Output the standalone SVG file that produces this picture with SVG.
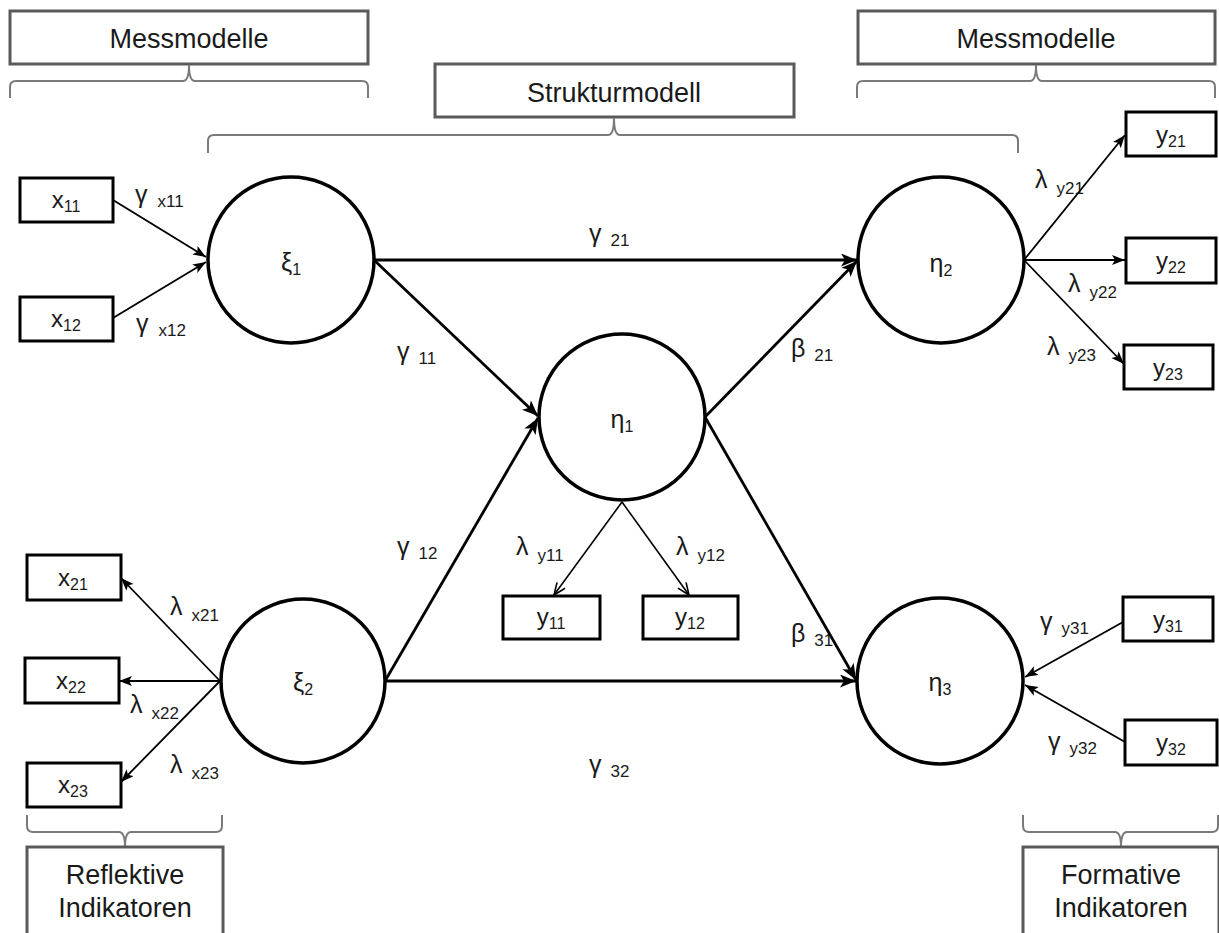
<svg xmlns="http://www.w3.org/2000/svg" width="1219" height="933" viewBox="0 0 1219 933">
  <style>
    .hdr { fill: #ffffff; stroke: #5a5a5a; stroke-width: 3; }
    .hdrtxt { font-family: "Liberation Sans", Arial, sans-serif; font-size: 27px; fill: #1a1a1a; text-anchor: middle; }
    .brace { fill: none; stroke: #7a7a7a; stroke-width: 2; }
    .lat { fill: #ffffff; stroke: #000000; stroke-width: 3.5; }
    .ind { fill: #ffffff; stroke: #000000; stroke-width: 3; }
    .lbl { font-family: "Liberation Sans", Arial, sans-serif; font-size: 24px; fill: #1a1a1a; text-anchor: middle; }
    .glbl { font-family: "Liberation Sans", Arial, sans-serif; font-size: 25px; fill: #1a1a1a; text-anchor: middle; }
    .elbl { font-family: "Liberation Sans", Arial, sans-serif; font-size: 25px; fill: #1a1a1a; }
    .sub { font-size: 16px; }
    .esub { font-size: 17px; }
    .struct { stroke: #000000; stroke-width: 2.8; fill: none; marker-end: url(#headBig); }
    .meas { stroke: #000000; stroke-width: 1.8; fill: none; marker-end: url(#headSmall); }
    .measOpen { stroke: #000000; stroke-width: 1.6; fill: none; marker-end: url(#headOpen); }
  </style>
  <defs>
    <marker id="headBig" markerUnits="userSpaceOnUse" markerWidth="18" markerHeight="14" refX="16" refY="6.5" orient="auto">
      <path d="M0,0 L16,6.5 L0,13 L4,6.5 z" fill="#000000"/>
    </marker>
    <marker id="headSmall" markerUnits="userSpaceOnUse" markerWidth="14" markerHeight="12" refX="13" refY="5" orient="auto">
      <path d="M0,0 L13,5 L0,10 L3,5 z" fill="#000000"/>
    </marker>
    <marker id="headOpen" markerUnits="userSpaceOnUse" markerWidth="16" markerHeight="14" refX="13" refY="6" orient="auto">
      <path d="M1,1 L13,6 L1,11" fill="none" stroke="#000000" stroke-width="1.6"/>
    </marker>
  </defs>

  <!-- header boxes and braces -->
  <g id="hdr-mess-left">
    <rect class="hdr" x="10" y="11" width="358" height="53"/>
    <text class="hdrtxt" x="189" y="48">Messmodelle</text>
    <path class="brace" d="M10,98 V87 Q10,81 16,81 H183 Q189,81 189,65 Q189,81 195,81 H362 Q368,81 368,87 V98"/>
  </g>
  <g id="hdr-struktur">
    <rect class="hdr" x="435" y="64" width="359" height="53"/>
    <text class="hdrtxt" x="614" y="102">Strukturmodell</text>
    <path class="brace" d="M208,153 V141 Q208,135 214,135 H608 Q614,135 614,118 Q614,135 620,135 H1012 Q1018,135 1018,141 V153"/>
  </g>
  <g id="hdr-mess-right">
    <rect class="hdr" x="858" y="11" width="357" height="53"/>
    <text class="hdrtxt" x="1036" y="48">Messmodelle</text>
    <path class="brace" d="M857,98 V87 Q857,81 863,81 H1030 Q1036,81 1036,65 Q1036,81 1042,81 H1209 Q1215,81 1215,87 V98"/>
  </g>
  <g id="hdr-reflektiv">
    <path class="brace" d="M27,815 V826 Q27,832 33,832 H119 Q125,832 125,847 Q125,832 131,832 H216 Q222,832 222,826 V815"/>
    <rect class="hdr" x="27" y="847" width="196" height="100"/>
    <text class="hdrtxt" x="125" y="884">Reflektive</text>
    <text class="hdrtxt" x="125" y="917">Indikatoren</text>
  </g>
  <g id="hdr-formativ">
    <path class="brace" d="M1023,815 V826 Q1023,832 1029,832 H1115 Q1121,832 1121,847 Q1121,832 1127,832 H1212 Q1218,832 1218,826 V815"/>
    <rect class="hdr" x="1023" y="847" width="196" height="100"/>
    <text class="hdrtxt" x="1121" y="884">Formative</text>
    <text class="hdrtxt" x="1121" y="917">Indikatoren</text>
  </g>

  <!-- connectors -->
  <g id="connectors">
    <line class="meas" x1="113" y1="200" x2="206" y2="257"/>
    <line class="meas" x1="113" y1="318" x2="206" y2="262"/>
    <line class="struct" x1="374" y1="260" x2="857" y2="260"/>
    <line class="struct" x1="374" y1="260" x2="538" y2="416"/>
    <line class="struct" x1="385" y1="681" x2="538" y2="418"/>
    <line class="struct" x1="385" y1="681" x2="856" y2="681"/>
    <line class="struct" x1="705" y1="417" x2="857" y2="261"/>
    <line class="struct" x1="705" y1="417" x2="856" y2="680"/>
    <line class="meas" x1="1024" y1="260" x2="1125" y2="135"/>
    <line class="meas" x1="1024" y1="260" x2="1125" y2="260"/>
    <line class="meas" x1="1024" y1="260" x2="1124" y2="364"/>
    <line class="measOpen" x1="622" y1="502" x2="554" y2="595"/>
    <line class="measOpen" x1="622" y1="502" x2="689" y2="595"/>
    <line class="meas" x1="220" y1="681" x2="121" y2="578"/>
    <line class="meas" x1="220" y1="681" x2="119" y2="681"/>
    <line class="meas" x1="220" y1="681" x2="121" y2="782"/>
    <line class="meas" x1="1123" y1="622" x2="1025" y2="677"/>
    <line class="meas" x1="1125" y1="742" x2="1025" y2="685"/>
  </g>

  <!-- connector labels -->
  <g id="path-labels">
    <text class="elbl" x="135" y="203">γ <tspan class="esub" dx="3" dy="4">x11</tspan></text>
    <text class="elbl" x="136" y="332">γ <tspan class="esub" dx="3" dy="4">x12</tspan></text>
    <text class="elbl" x="589" y="242">γ <tspan class="esub" dx="2" dy="4">21</tspan></text>
    <text class="elbl" x="397" y="360">γ <tspan class="esub" dx="2" dy="4">11</tspan></text>
    <text class="elbl" x="397" y="555">γ <tspan class="esub" dx="2" dy="4">12</tspan></text>
    <text class="elbl" x="589" y="773">γ <tspan class="esub" dx="2" dy="4">32</tspan></text>
    <text class="elbl" x="791" y="357">β <tspan class="esub" dx="2" dy="4">21</tspan></text>
    <text class="elbl" x="791" y="642">β <tspan class="esub" dx="2" dy="4">31</tspan></text>
    <text class="elbl" x="1035" y="188">λ <tspan class="esub" dx="2" dy="6">y21</tspan></text>
    <text class="elbl" x="1068" y="292">λ <tspan class="esub" dx="2" dy="6">y22</tspan></text>
    <text class="elbl" x="1047" y="355">λ <tspan class="esub" dx="2" dy="6">y23</tspan></text>
    <text class="elbl" x="516" y="555">λ <tspan class="esub" dx="2" dy="6">y11</tspan></text>
    <text class="elbl" x="676" y="555">λ <tspan class="esub" dx="2" dy="6">y12</tspan></text>
    <text class="elbl" x="170" y="615">λ <tspan class="esub" dx="2" dy="6">x21</tspan></text>
    <text class="elbl" x="130" y="713">λ <tspan class="esub" dx="2" dy="6">x22</tspan></text>
    <text class="elbl" x="170" y="773">λ <tspan class="esub" dx="2" dy="6">x23</tspan></text>
    <text class="elbl" x="1040" y="630">γ <tspan class="esub" dx="2" dy="4">y31</tspan></text>
    <text class="elbl" x="1048" y="750">γ <tspan class="esub" dx="2" dy="4">y32</tspan></text>
  </g>

  <!-- latent variables -->
  <g id="xi1">
    <circle class="lat" cx="291" cy="260" r="83"/>
    <text class="glbl" x="291" y="271">ξ<tspan class="sub" dy="4">1</tspan></text>
  </g>
  <g id="eta1">
    <circle class="lat" cx="622" cy="417" r="83"/>
    <text class="glbl" x="622" y="428">η<tspan class="sub" dy="4">1</tspan></text>
  </g>
  <g id="eta2">
    <circle class="lat" cx="941" cy="260" r="83"/>
    <text class="glbl" x="941" y="272">η<tspan class="sub" dy="4">2</tspan></text>
  </g>
  <g id="xi2">
    <circle class="lat" cx="303" cy="681" r="82"/>
    <text class="glbl" x="303" y="691">ξ<tspan class="sub" dy="4">2</tspan></text>
  </g>
  <g id="eta3">
    <circle class="lat" cx="940" cy="681" r="83"/>
    <text class="glbl" x="940" y="691">η<tspan class="sub" dy="4">3</tspan></text>
  </g>

  <!-- indicators -->
  <g id="x11"><rect class="ind" x="20" y="178" width="93" height="44"/><text class="lbl" x="66" y="208">x<tspan class="sub" dy="4">11</tspan></text></g>
  <g id="x12"><rect class="ind" x="20" y="297" width="93" height="44"/><text class="lbl" x="66" y="327">x<tspan class="sub" dy="4">12</tspan></text></g>
  <g id="y21"><rect class="ind" x="1126" y="112" width="90" height="44"/><text class="lbl" x="1171" y="143">y<tspan class="sub" dy="4">21</tspan></text></g>
  <g id="y22"><rect class="ind" x="1126" y="238" width="90" height="45"/><text class="lbl" x="1171" y="269">y<tspan class="sub" dy="4">22</tspan></text></g>
  <g id="y23"><rect class="ind" x="1124" y="345" width="89" height="44"/><text class="lbl" x="1168" y="376">y<tspan class="sub" dy="4">23</tspan></text></g>
  <g id="x21"><rect class="ind" x="27" y="555" width="94" height="45"/><text class="lbl" x="73" y="586">x<tspan class="sub" dy="4">21</tspan></text></g>
  <g id="x22"><rect class="ind" x="25" y="658" width="94" height="45"/><text class="lbl" x="71" y="689">x<tspan class="sub" dy="4">22</tspan></text></g>
  <g id="x23"><rect class="ind" x="27" y="763" width="94" height="44"/><text class="lbl" x="73" y="793">x<tspan class="sub" dy="4">23</tspan></text></g>
  <g id="y11"><rect class="ind" x="503" y="596" width="97" height="43"/><text class="lbl" x="551" y="625">y<tspan class="sub" dy="4">11</tspan></text></g>
  <g id="y12"><rect class="ind" x="643" y="596" width="95" height="43"/><text class="lbl" x="690" y="625">y<tspan class="sub" dy="4">12</tspan></text></g>
  <g id="y31"><rect class="ind" x="1123" y="597" width="90" height="44"/><text class="lbl" x="1168" y="628">y<tspan class="sub" dy="4">31</tspan></text></g>
  <g id="y32"><rect class="ind" x="1125" y="720" width="92" height="45"/><text class="lbl" x="1171" y="751">y<tspan class="sub" dy="4">32</tspan></text></g>
</svg>
